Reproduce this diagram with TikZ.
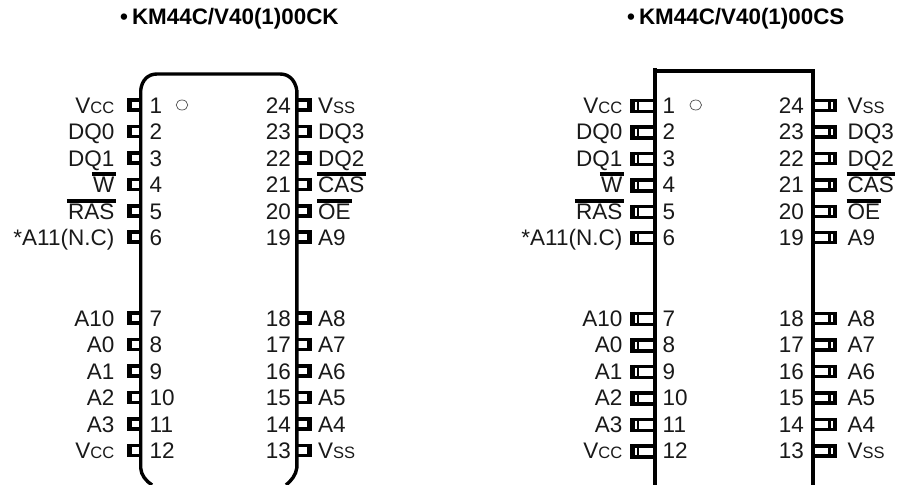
\documentclass[tikz,border=0pt]{standalone}
\usepackage{fontspec}
\setmainfont{Liberation Sans}
\newcommand{\lbsz}{\fontsize{22.5}{24}\selectfont}
\newcommand{\smc}[1]{{\fontsize{16.5}{18}\selectfont #1}}
\tikzset{
  body/.style={line width=3.4pt,black},
  sqbody/.style={line width=4pt,black},
  pinline/.style={line width=3.2pt,black},
  sqpin/.style={line width=3.6pt,black},
  endcap/.style={line width=5pt,black},
  slit/.style={line width=2.7pt,black},
  farcap/.style={line width=3.4pt,black},
  lbl/.style={inner sep=0pt,font=\lbsz,text=black!90},
  lblL/.style={lbl,anchor=base east},
  lblR/.style={lbl,anchor=base west},
  bar/.style={line width=4pt,black,shorten <=-1pt,shorten >=-1pt},
  dot/.style={line width=0.7pt,black!70},
  ttl/.style={inner sep=0pt,anchor=base west,font=\fontsize{22.4}{24}\selectfont\bfseries}
}
\begin{document}
\begin{tikzpicture}[x=1pt,y=-1pt]
\useasboundingbox (0,0) rectangle (898,485);
\node[ttl] (t1) at (120,24.5) {•\hspace{4pt}KM44C/V40(1)00CK};
\node[ttl] (t2) at (627,24.5) {•\hspace{4pt}KM44C/V40(1)00CS};
% left package
\draw[body] (140.7,90) .. controls (142,80) and (148,74) .. (157,74) -- (280,74) .. controls (289,74) and (295,80) .. (296.8,90);
\draw[body] (140.7,90) -- (140.7,468) .. controls (141,475) and (146,481) .. (152,485);
\draw[body] (296.8,90) -- (296.8,468) .. controls (296,475) and (291,481) .. (286,485);
% right package
\draw[sqbody] (655.3,68.3) -- (655.3,485);
\draw[sqbody] (655.3,71) -- (812.8,71) -- (812.8,485);
% orientation marks
\draw[dot] (182,105) ellipse (5.8 and 5);
\draw[dot] (695.7,105) ellipse (5.8 and 5);
% left-side pins
\foreach \n/\y/\t in {1/105/{V\smc{CC}},2/131.5/DQ0,3/158/DQ1,4/184.5/W,5/211/RAS,6/237/{*A11(N.C)},7/318/A10,8/344.5/A0,9/371/A1,10/397.5/A2,11/424/A3,12/450.5/{V\smc{CC}}}{
  \draw[pinline] (140,\y-5) -- (129,\y-5);
  \draw[pinline] (140,\y+5) -- (129,\y+5);
  \draw[endcap] (129.2,\y-6.6) -- (129.2,\y+6.6);
  \node[lblL] (la\n) at (114.5,\y+8) {\t};
  \node[lblR] (na\n) at (149.5,\y+8) {\n};
  \draw[sqpin] (654,\y-4.4) -- (632,\y-4.4);
  \draw[sqpin] (654,\y+6.4) -- (632,\y+6.4);
  \draw[endcap] (632.5,\y-6.2) -- (632.5,\y+8.2);
  \draw[slit] (638,\y-4) -- (638,\y+6);
  \node[lblL] (lb\n) at (622.5,\y+8) {\t};
  \node[lblR] (nb\n) at (662.5,\y+8) {\n};
}
% right-side pins
\foreach \n/\y/\t in {24/105/{V\smc{SS}},23/131.5/DQ3,22/158/DQ2,21/184.5/CAS,20/211/OE,19/237/A9,18/318/A8,17/344.5/A7,16/371/A6,15/397.5/A5,14/424/A4,13/450.5/{V\smc{SS}}}{
  \draw[pinline] (297,\y-5) -- (309,\y-5);
  \draw[pinline] (297,\y+5) -- (309,\y+5);
  \draw[endcap] (309.2,\y-6.6) -- (309.2,\y+6.6);
  \node[lblR] (la\n) at (318,\y+8) {\t};
  \node[lblL] (na\n) at (291,\y+8) {\n};
  \draw[pinline] (813,\y-4.6) -- (835,\y-4.6);
  \draw[pinline] (813,\y+5.4) -- (835,\y+5.4);
  \draw[farcap] (835,\y-6.2) -- (835,\y+7);
  \draw[slit] (829.5,\y-4.6) -- (829.5,\y+5.4);
  \node[lblR] (lb\n) at (847.5,\y+8) {\t};
  \node[lblL] (nb\n) at (804,\y+8) {\n};
}
% active-low bars
\foreach \s in {a,b}{
  \draw[bar] ([yshift=2.6pt]l\s4.north west) -- ([yshift=2.6pt]l\s4.north east);
  \draw[bar] ([yshift=1.8pt]l\s5.north west) -- ([yshift=1.8pt]l\s5.north east);
  \draw[bar] ([yshift=2.6pt]l\s21.north west) -- ([yshift=2.6pt]l\s21.north east);
  \draw[bar] ([yshift=1.8pt]l\s20.north west) -- ([yshift=1.8pt]l\s20.north east);
}
\end{tikzpicture}
\end{document}
